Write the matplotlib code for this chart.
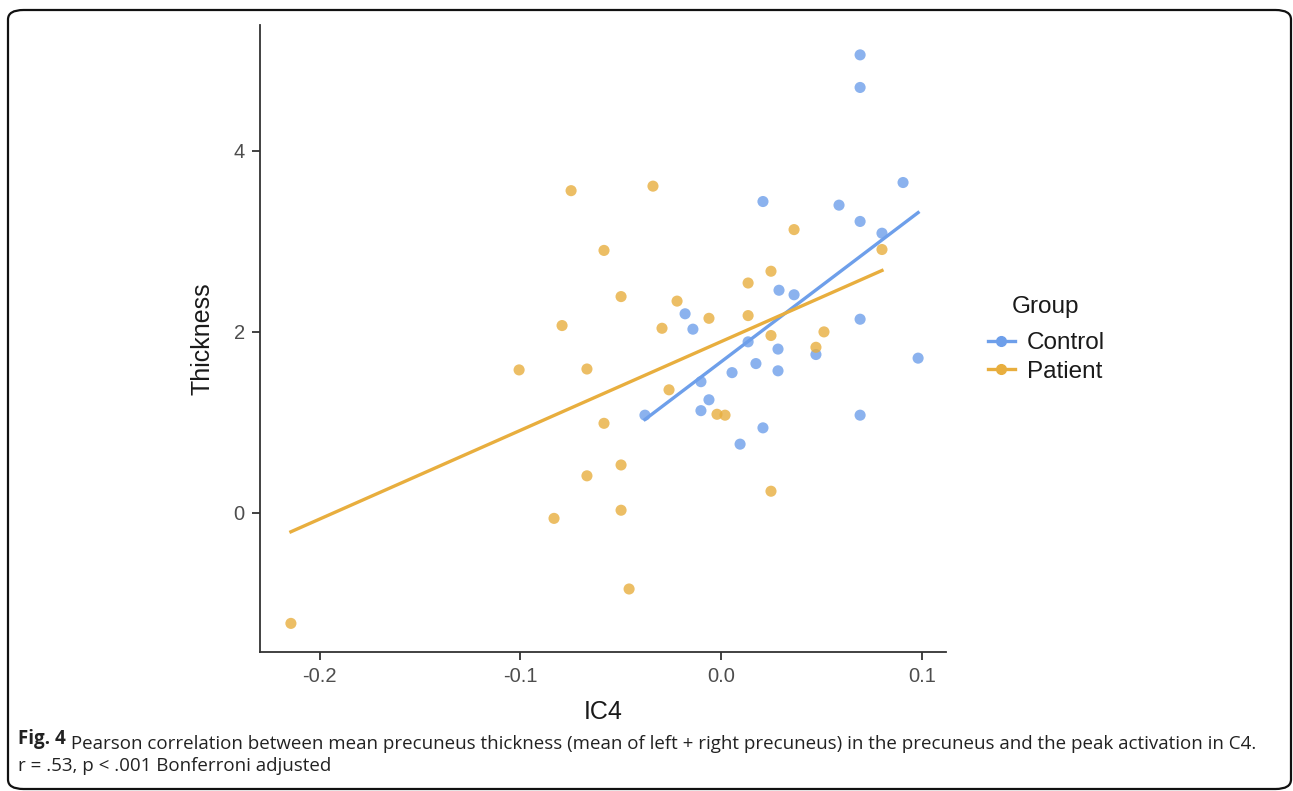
import numpy as np
import matplotlib
matplotlib.use('Agg')
import matplotlib.pyplot as plt
from matplotlib.lines import Line2D
from matplotlib.patches import FancyBboxPatch
from matplotlib.text import Annotation

# control group (IC4 peak activation vs precuneus thickness)
control_ic4 = [0.0693, 0.0693, 0.0907, 0.0209, 0.0588, 0.0693, 0.0802, 0.0289, 0.0364,
               -0.0179, -0.0140, 0.0693, 0.0135, 0.0284, 0.0473, 0.0982, 0.0174, 0.0055,
               0.0284, -0.0100, -0.0060, -0.0379, -0.0100, 0.0693, 0.0209, 0.0095]
control_thick = [5.06, 4.70, 3.65, 3.44, 3.40, 3.22, 3.09, 2.46, 2.41,
                 2.20, 2.03, 2.14, 1.89, 1.81, 1.75, 1.71, 1.65, 1.55,
                 1.57, 1.45, 1.25, 1.08, 1.13, 1.08, 0.94, 0.76]

# patient group
patient_ic4 = [-0.0747, -0.0339, 0.0364, -0.0583, 0.0802, 0.0249, 0.0135, -0.0498, -0.0219,
               -0.0060, 0.0135, -0.0792, -0.0294, 0.0249, 0.0513, 0.0473, -0.1006, -0.0668,
               -0.0259, -0.0020, 0.0020, -0.0583, -0.0498, -0.0668, 0.0249, -0.0498, -0.0832,
               -0.0458, -0.2143]
patient_thick = [3.56, 3.61, 3.13, 2.90, 2.91, 2.67, 2.54, 2.39, 2.34,
                 2.15, 2.18, 2.07, 2.04, 1.96, 2.00, 1.83, 1.58, 1.59,
                 1.36, 1.09, 1.08, 0.99, 0.53, 0.41, 0.24, 0.03, -0.06,
                 -0.84, -1.22]

groups = ['Control', 'Patient']
colors = {'Control': '#6E9FEA', 'Patient': '#E8AE3E'}
xticks = [-0.2, -0.1, 0.0, 0.1]
yticks = [0, 2, 4]

plt.rcParams['font.family'] = ['Liberation Sans', 'DejaVu Sans']

fig = plt.figure(figsize=(12.93, 7.91), dpi=100)

# rounded frame around the whole figure
frame = FancyBboxPatch((8 / 1293, 2 / 791), 1283 / 1293, 779 / 791,
                       boxstyle='round,pad=0,rounding_size=0.012',
                       transform=fig.transFigure, fill=False,
                       edgecolor='#111111', linewidth=1.6)
fig.patches.append(frame)

ax = fig.add_axes([260 / 1293, 1 - 652 / 791, 686 / 1293, 627 / 791])

data = {'Control': (control_ic4, control_thick), 'Patient': (patient_ic4, patient_thick)}
for g in groups:
    x, y = np.array(data[g][0]), np.array(data[g][1])
    ax.scatter(x, y, s=64, color=colors[g], alpha=0.8, edgecolors='none', zorder=2)
    # linear fit over the group's range, like geom_smooth(method='lm')
    b, a = np.polyfit(x, y, 1)
    xs = np.array([x.min(), x.max()])
    ax.plot(xs, a + b * xs, color=colors[g], linewidth=2.4, zorder=3)

ax.set_xlim(-0.2297, 0.1121)
ax.set_ylim(-1.536, 5.39)
ax.set_xticks(xticks)
ax.set_xticklabels(['-0.2', '-0.1', '0.0', '0.1'])
ax.set_yticks(yticks)
for s in ['top', 'right']:
    ax.spines[s].set_visible(False)
for s in ['left', 'bottom']:
    ax.spines[s].set_color('#333333')
    ax.spines[s].set_linewidth(1.3)
ax.tick_params(length=6, width=1.3, color='#333333', labelsize=14.5,
               labelcolor='#4D4D4D', pad=5)
ax.set_xlabel('IC4', fontsize=18, color='#1A1A1A', labelpad=10)
ax.set_ylabel('Thickness', fontsize=18, color='#1A1A1A', labelpad=14)

# legend: title drawn separately so it sits indented like ggplot's
handles = [Line2D([0], [0], color=colors[g], marker='o', markersize=7, linewidth=2.4)
           for g in groups]
leg = fig.legend(handles, groups, loc='center left',
                 bbox_to_anchor=(988 / 1293, 1 - 357.5 / 791), frameon=False,
                 borderpad=0, borderaxespad=0,
                 fontsize=17.5, handlelength=1.1,
                 handletextpad=0.5, labelspacing=0.25)
for t in leg.get_texts():
    t.set_color('#1A1A1A')
fig.text(1012 / 1293, 1 - 307 / 791, 'Group', fontsize=17.5, color='#1A1A1A',
         va='center', ha='left')

# caption
cap = dict(fontsize=13.5, family='Open Sans', color='#222222', va='baseline')
t1 = fig.text(18 / 1293, 1 - 744 / 791, 'Fig. 4', fontweight='bold', **cap)
fig.add_artist(Annotation(
    ' Pearson correlation between mean precuneus thickness (mean of left + right '
    'precuneus) in the precuneus and the peak activation in C4.',
    xy=(1, 0), xycoords=t1, **cap))
fig.text(18 / 1293, 1 - 771 / 791, 'r = .53, p < .001 Bonferroni adjusted', **cap)

fig.savefig('out.png', dpi=100)
